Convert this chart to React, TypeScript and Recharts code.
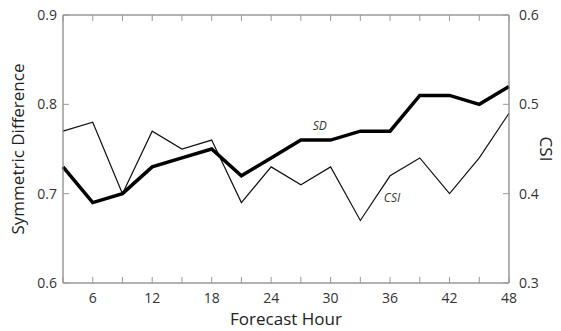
import { Line, LineChart, ReferenceArea, ReferenceDot, XAxis, YAxis } from "recharts";

const hours = [3, 6, 9, 12, 15, 18, 21, 24, 27, 30, 33, 36, 39, 42, 45, 48];
const sdValues = [0.73, 0.69, 0.7, 0.73, 0.74, 0.75, 0.72, 0.74, 0.76, 0.76, 0.77, 0.77, 0.81, 0.81, 0.8, 0.82];
const csiValues = [0.47, 0.48, 0.4, 0.47, 0.45, 0.46, 0.39, 0.43, 0.41, 0.43, 0.37, 0.42, 0.44, 0.4, 0.44, 0.49];
const sdTicks = [0.6, 0.7, 0.8, 0.9];
const csiTicks = [0.3, 0.4, 0.5, 0.6];

const data = hours.map((h, i) => ({ hour: h, sd: sdValues[i], csi: csiValues[i] }));

const FONT = "'Open Sans', 'DejaVu Sans', sans-serif";
const AXIS = "#999";
const tickStyle = { fill: "#333", fontSize: 14, fontFamily: FONT };
const titleStyle = { fill: "#222", fontSize: 17, fontFamily: FONT };
const noteStyle = { fill: "#333", fontSize: 12, fontStyle: "italic", fontFamily: FONT };

export default function App() {
  return (
    <div style={{ position: "absolute", left: 0, top: 0, background: "#fff" }}>
      <LineChart width={561} height={331} data={data} margin={{ top: 14, right: 0, bottom: 0, left: 0 }}>
        <XAxis
          dataKey="hour"
          type="number"
          domain={[3, 48]}
          ticks={hours}
          tickFormatter={(v) => (v % 6 === 0 ? String(v) : "")}
          height={48}
          stroke={AXIS}
          tickSize={-6}
          tickMargin={16}
          tick={tickStyle}
          label={{ value: "Forecast Hour", position: "center", dy: 12, style: titleStyle }}
        />
        <XAxis
          xAxisId="top"
          dataKey="hour"
          type="number"
          orientation="top"
          domain={[3, 48]}
          ticks={hours}
          tickFormatter={() => ""}
          height={1}
          stroke={AXIS}
          tickSize={-6}
        />
        <YAxis
          yAxisId="sd"
          domain={[0.6, 0.9]}
          ticks={sdTicks}
          width={63}
          stroke={AXIS}
          tickSize={-6}
          tickMargin={12}
          tick={tickStyle}
          tickFormatter={(v) => v.toFixed(1)}
          label={{ value: "Symmetric Difference", angle: -90, position: "center", dx: -14, style: titleStyle }}
        />
        <YAxis
          yAxisId="csi"
          orientation="right"
          domain={[0.3, 0.6]}
          ticks={csiTicks}
          width={52}
          stroke={AXIS}
          tickSize={-6}
          tickMargin={16}
          tick={tickStyle}
          tickFormatter={(v) => v.toFixed(1)}
          label={{ value: "CSI", angle: 90, position: "center", dx: 11, style: titleStyle }}
        />
        <ReferenceArea yAxisId="sd" x1={3} x2={48} y1={0.6} y2={0.9} fill="none" stroke={AXIS} strokeWidth={1} ifOverflow="visible" />
        <Line
          yAxisId="csi"
          dataKey="csi"
          stroke="#111"
          strokeWidth={1.2}
          dot={false}
          isAnimationActive={false}
        />
        <Line
          yAxisId="sd"
          dataKey="sd"
          stroke="#000"
          strokeWidth={3.5}
          dot={false}
          isAnimationActive={false}
        />
        <ReferenceDot yAxisId="sd" x={28.9} y={0.776} r={0} label={{ value: "SD", position: "center", style: noteStyle }} />
        <ReferenceDot yAxisId="sd" x={36.2} y={0.695} r={0} label={{ value: "CSI", position: "center", style: noteStyle }} />
      </LineChart>
    </div>
  );
}
